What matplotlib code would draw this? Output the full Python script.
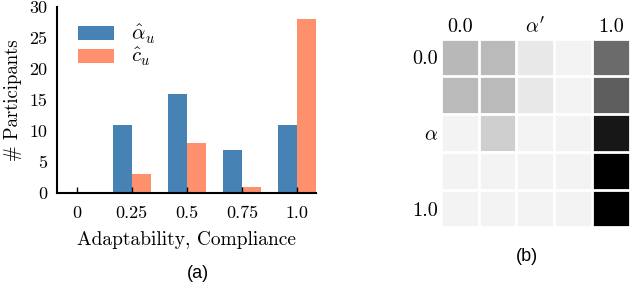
import numpy as np
import matplotlib
matplotlib.use('Agg')
import matplotlib.pyplot as plt

plt.rcParams['font.family'] = 'cmr10'
plt.rcParams['mathtext.fontset'] = 'cm'
plt.rcParams['axes.unicode_minus'] = False

# histogram data
categories = ['0', '0.25', '0.5', '0.75', '1.0']
alpha_counts = [0, 11, 16, 7, 11]
c_counts = [0, 3, 8, 1, 28]

# heatmap data (0 = white, 1 = black)
heat = np.array([
    [0.28, 0.27, 0.09, 0.05, 0.58],
    [0.27, 0.27, 0.09, 0.05, 0.63],
    [0.05, 0.19, 0.05, 0.05, 0.91],
    [0.05, 0.05, 0.05, 0.05, 1.00],
    [0.05, 0.05, 0.05, 0.05, 1.00],
])
heat_xlabels = ['0.0', r"$\alpha'$", '1.0']
heat_ylabels = ['0.0', r'$\alpha$', '1.0']

fig = plt.figure(figsize=(6.4, 3.02), dpi=100)

# (a) bar chart
ax = fig.add_axes([0.089, 0.361, 0.405, 0.616])
x = np.arange(len(categories))
w = 0.34
ax.bar(x - w, alpha_counts, width=w, align='edge', color='#4682b4', label=r'$\hat{\alpha}_u$')
ax.bar(x, c_counts, width=w, align='edge', color='#ff906e', label=r'$\hat{c}_u$')
ax.set_xlim(-0.36, 4.35)
ax.set_ylim(0, 30)
ax.set_xticks(x)
ax.set_xticklabels(categories)
ax.set_yticks([0, 5, 10, 15, 20, 25, 30])
ax.tick_params(axis='x', direction='in', length=4, width=1, pad=9, labelsize=13)
ax.tick_params(axis='y', length=0, pad=7, labelsize=13)
for s in ['top', 'right']:
    ax.spines[s].set_visible(False)
for s in ['left', 'bottom']:
    ax.spines[s].set_linewidth(1.5)
ax.set_xlabel('Adaptability, Compliance', fontsize=14, labelpad=7)
ax.set_ylabel('# Participants', fontsize=13.5, labelpad=5)
ax.legend(loc='upper left', bbox_to_anchor=(0.04, 0.97), frameon=False, fontsize=15,
          handlelength=1.75, handleheight=0.65, labelspacing=0.0, handletextpad=0.8,
          borderpad=0.0)
fig.text(0.31, 0.095, '(a)', fontsize=13, family='Liberation Sans', ha='center', va='center')

# (b) heatmap
ax2 = fig.add_axes([0.689, 0.245, 0.295, 0.629])
ax2.imshow(heat, cmap='gray_r', vmin=0, vmax=1, interpolation='nearest', aspect='equal')
for k in np.arange(-0.5, 5.5, 1.0):
    ax2.axhline(k, color='white', lw=2)
    ax2.axvline(k, color='white', lw=2)
ax2.set_xticks([0, 2, 4])
ax2.set_xticklabels(heat_xlabels)
ax2.set_yticks([0, 2, 4])
ax2.set_yticklabels(heat_ylabels)
ax2.xaxis.tick_top()
ax2.tick_params(length=0, labelsize=14.5, pad=2)
for s in ax2.spines.values():
    s.set_visible(False)
fig.text(0.824, 0.15, '(b)', fontsize=13, family='Liberation Sans', ha='center', va='center')

fig.savefig('out.png', dpi=100)
